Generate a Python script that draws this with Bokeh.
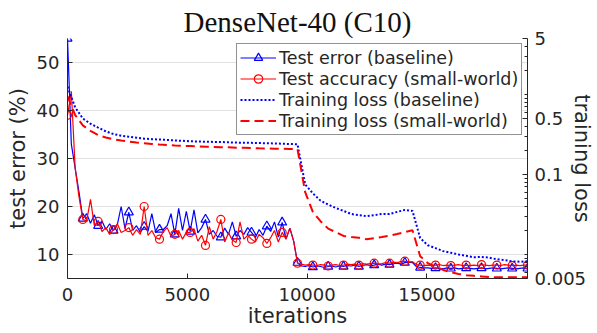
from bokeh.plotting import figure
from bokeh.models import (Range1d, LogScale, LogAxis, FixedTicker,
                          Legend, LegendItem)
from bokeh.embed import file_html
from bokeh.resources import INLINE

# ---------------- data ----------------
test_iters = list(range(0, 19201, 160))
loss_iters = list(range(0, 19201, 320))

base_test = [
    55, 33, 28, 23, 17.5, 18.5, 16.5, 18.3, 16.0, 17.0,
    15.2, 16.4, 15.0, 16.2, 20.0, 15.4, 18.8, 15.0, 16.0, 14.6,
    15.8, 14.8, 18.5, 14.6, 15.2, 15.2, 16.0, 18.5, 14.2, 19.6,
    15.0, 19.0, 14.8, 19.3, 14.5, 15.6, 17.3, 14.2, 15.0, 13.8,
    13.6, 15.5, 14.2, 16.8, 13.8, 15.0, 14.2, 15.6, 14.6, 13.5,
    15.2, 14.0, 15.9, 14.8, 16.8, 13.6, 16.7, 13.2, 15.5, 12.8,
    8.3, 7.6, 7.5, 7.7, 7.4, 7.6, 7.5, 7.3, 7.5, 7.6,
    7.4, 7.6, 7.5, 7.7, 7.6, 7.8, 7.5, 7.7, 7.9, 7.7,
    7.8, 8.0, 7.8, 8.0, 7.9, 8.1, 8.2, 8.0, 8.3, 8.4,
    8.3, 7.5, 7.3, 7.2, 7.2, 7.1, 7.2, 7.1, 7.0, 7.2,
    7.1, 7.2, 7.0, 7.1, 7.2, 7.1, 7.0, 7.1, 7.2, 7.0,
    7.1, 7.2, 7.1, 7.0, 7.1, 7.2, 7.1, 7.0, 7.1, 7.2,
    7.1,
]

sw_test = [
    39, 44, 28, 22, 17.3, 17.0, 21.5, 16.0, 16.9, 14.8,
    15.6, 14.2, 15.2, 16.4, 14.6, 15.0, 15.6, 14.0, 15.2, 14.2,
    20.0, 14.0, 15.0, 13.5, 13.2, 14.8, 15.6, 13.8, 14.2, 15.0,
    13.2, 14.6, 14.6, 15.4, 12.8, 14.0, 11.9, 15.8, 13.2, 14.8,
    17.3, 12.6, 14.5, 13.0, 12.5, 16.8, 13.2, 14.0, 13.2, 12.6,
    14.2, 13.5, 12.3, 13.5, 15.0, 12.6, 14.6, 13.2, 15.5, 12.8,
    8.2, 8.0, 7.8, 7.9, 7.8, 7.7, 7.9, 7.8, 7.6, 7.8,
    7.9, 7.7, 7.8, 8.0, 7.9, 8.0, 7.8, 8.1, 8.0, 8.1,
    8.2, 8.0, 8.1, 8.3, 8.2, 8.4, 8.3, 8.5, 8.6, 8.4,
    8.5, 7.9, 7.8, 7.7, 7.8, 7.7, 7.8, 7.9, 7.7, 7.8,
    7.7, 7.8, 7.9, 7.7, 7.8, 7.7, 7.8, 7.7, 7.9, 7.8,
    7.7, 7.8, 7.8, 7.7, 7.9, 7.8, 7.7, 7.8, 7.7, 7.8,
    7.8,
]

base_loss = [
    1.25, 0.69, 0.50, 0.43, 0.385, 0.345, 0.32, 0.305, 0.295, 0.287,
    0.28, 0.276, 0.273, 0.27, 0.266, 0.263, 0.26, 0.258, 0.256, 0.255,
    0.254, 0.252, 0.25, 0.249, 0.248, 0.247, 0.245, 0.244, 0.242, 0.240,
    0.238,
    0.075, 0.058, 0.047, 0.042, 0.038, 0.035, 0.032, 0.031, 0.030, 0.031,
    0.032, 0.032, 0.034, 0.036, 0.035,
    0.016, 0.013, 0.012, 0.011, 0.0105, 0.0100, 0.0096, 0.0092, 0.0093, 0.0091,
    0.0087, 0.0085, 0.0082, 0.0081, 0.0082,
]

sw_loss = [
    0.95, 0.55, 0.41, 0.35, 0.31, 0.29, 0.275, 0.265, 0.257, 0.25,
    0.245, 0.24, 0.236, 0.233, 0.23, 0.228, 0.226, 0.224, 0.222, 0.221,
    0.219, 0.218, 0.216, 0.215, 0.214, 0.212, 0.211, 0.21, 0.209, 0.208,
    0.207,
    0.06, 0.034, 0.026, 0.021, 0.019, 0.017, 0.0165, 0.0162, 0.0155, 0.016,
    0.0165, 0.0172, 0.018, 0.019, 0.020,
    0.0095, 0.0078, 0.007, 0.0064, 0.006, 0.0057, 0.0055, 0.0054, 0.0053, 0.0052,
    0.0052, 0.0052, 0.0052, 0.0052, 0.0052,
]

x_ticks = [0, 5000, 10000, 15000]
left_ticks = [10, 20, 30, 40, 50]
right_ticks = [0.005, 0.1, 0.5, 5]
right_minor = [0.006, 0.007, 0.008, 0.009, 0.01, 0.02, 0.03, 0.04, 0.05,
               0.06, 0.07, 0.08, 0.09, 0.2, 0.3, 0.4, 0.6, 0.7, 0.8, 0.9,
               1, 2, 3, 4]
legend_labels = ["Test error (baseline)", "Test accuracy (small-world)",
                 "Training loss (baseline)", "Training loss (small-world)"]

title_text = "DenseNet-40 (C10)"
xlabel = "iterations"
ylabel_left = "test error (%)"
ylabel_right = "training loss"

BLUE = "#0000ff"
RED = "#ff0000"
DARK = "#262626"

# ---------------- figure ----------------
p = figure(width=597, height=333, output_backend="svg", toolbar_location=None,
           x_range=Range1d(0, 19200), y_range=Range1d(5, 55),
           title=title_text,
           min_border_left=67, min_border_right=65, min_border_top=38,
           min_border_bottom=55)
p.outline_line_color = None
p.background_fill_color = "white"
p.border_fill_color = "white"

p.title.text_font = "Liberation Serif"
p.title.text_font_size = "29px"
p.title.text_font_style = "normal"
p.title.text_color = "#111111"
p.title.align = "center"
p.title.standoff = 2

p.extra_y_ranges = {"loss": Range1d(0.005, 5)}
p.extra_y_scales = {"loss": LogScale()}

rax = LogAxis(y_range_name="loss",
              ticker=FixedTicker(ticks=right_ticks, minor_ticks=right_minor))
rax.major_label_overrides = {t: str(t) for t in right_ticks}
p.add_layout(rax, "right")

p.xaxis.ticker = FixedTicker(ticks=x_ticks)
p.yaxis[0].ticker = FixedTicker(ticks=left_ticks)

for ax in [p.xaxis[0], p.yaxis[0], rax]:
    ax.axis_line_color = DARK
    ax.axis_line_width = 1
    ax.major_tick_line_color = DARK
    ax.major_tick_in = 5
    ax.major_tick_out = 0
    ax.minor_tick_in = 0
    ax.minor_tick_out = 0
    ax.major_label_text_font = "DejaVu Sans"
    ax.major_label_text_font_size = "18px"
    ax.major_label_text_color = DARK
    ax.axis_label_text_font = "DejaVu Sans"
    ax.axis_label_text_font_size = "21px"
    ax.axis_label_text_font_style = "normal"
    ax.axis_label_text_color = DARK
rax.minor_tick_in = 3
rax.minor_tick_line_color = DARK

p.xaxis[0].axis_label = xlabel
p.yaxis[0].axis_label = ylabel_left
rax.axis_label = ylabel_right

p.xaxis[0].major_label_standoff = 9
p.xaxis[0].axis_label_standoff = 0
p.yaxis[0].major_label_standoff = 8
p.yaxis[0].axis_label_standoff = 4
rax.major_label_standoff = 7
rax.axis_label_standoff = -19

p.xgrid.visible = False
p.ygrid.ticker = FixedTicker(ticks=left_ticks)
p.ygrid.grid_line_color = "#e2e2e2"
p.ygrid.grid_line_width = 1

# ---------------- glyphs ----------------
bt = p.line(test_iters, base_test, line_color=BLUE, line_width=1.2)
btm = p.scatter(test_iters[::4], base_test[::4], marker="triangle", size=9,
                line_color=BLUE, fill_color=None, line_width=1.2)
rt = p.line(test_iters, sw_test, line_color=RED, line_width=1.2)
rtm = p.scatter(test_iters[::4], sw_test[::4], marker="circle", size=8,
                line_color=RED, fill_color=None, line_width=1.2)
bl = p.line(loss_iters, base_loss, y_range_name="loss", line_color=BLUE,
            line_width=2, line_dash="2 2")
rl = p.line(loss_iters, sw_loss, y_range_name="loss", line_color=RED,
            line_width=2, line_dash="9 5")

legend = Legend(items=[
    LegendItem(label=legend_labels[0], renderers=[bt, btm]),
    LegendItem(label=legend_labels[1], renderers=[rt, rtm]),
    LegendItem(label=legend_labels[2], renderers=[bl]),
    LegendItem(label=legend_labels[3], renderers=[rl]),
], location=(169, 143))
legend.label_text_font = "DejaVu Sans"
legend.label_text_font_size = "17.5px"
legend.label_text_color = DARK
legend.border_line_color = DARK
legend.border_line_width = 1
legend.background_fill_color = "white"
legend.background_fill_alpha = 1
legend.glyph_width = 36
legend.glyph_height = 21
legend.label_height = 21
legend.label_standoff = 3
legend.padding = 3
legend.spacing = 0
legend.margin = 0
p.add_layout(legend)

open("out.html", "w").write(file_html(p, INLINE))
